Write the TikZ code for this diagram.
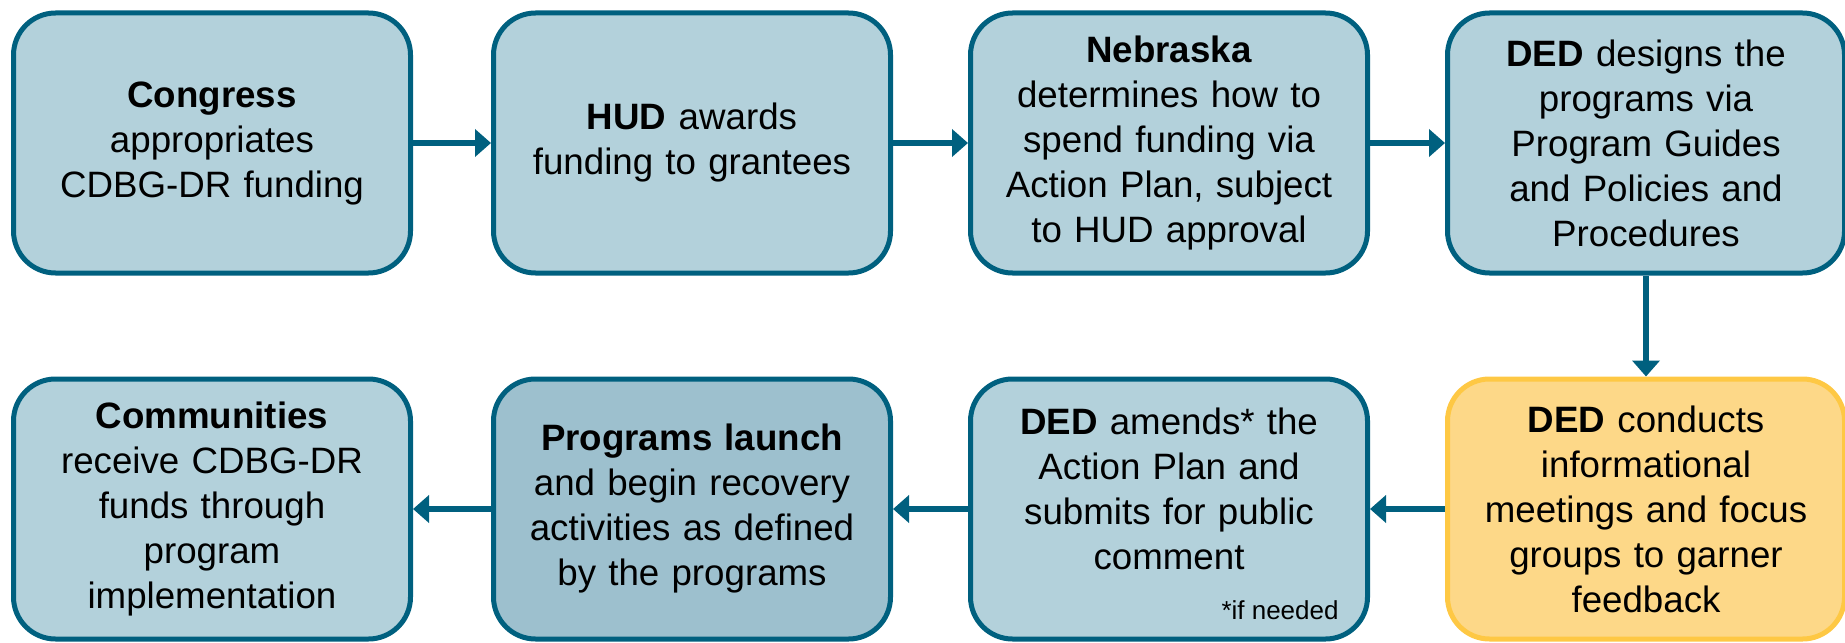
\documentclass[tikz,border=0pt]{standalone}
\usepackage{fontspec}
\setmainfont{Liberation Sans}
\usetikzlibrary{arrows.meta,calc}
\definecolor{bord}{HTML}{00607F}
\definecolor{fillb}{HTML}{B3D1DB}
\definecolor{filld}{HTML}{9DC0CE}
\definecolor{fillY}{HTML}{FDD888}
\definecolor{bordY}{HTML}{FEC844}
\begin{document}
\begin{tikzpicture}[x=0.5pt,y=-0.5pt,
  box/.style={draw=bord, fill=fillb, line width=2.5pt, rounded corners=21pt,
    minimum width=198.5pt, minimum height=130pt, align=center, text width=190pt,
    inner sep=0pt, font=\fontsize{18.35pt}{22.5pt}\selectfont},
  boxtext/.style={align=center, text width=190pt, inner sep=0pt,
    font=\fontsize{18.35pt}{22.5pt}\selectfont},
  conn/.style={draw=bord, line width=3pt, -{Triangle[length=8pt,width=13.5pt]}},
]
\useasboundingbox (0,0) rectangle (1845,642);
% top row
\node[box] (b1) at (212,143) {\textbf{Congress}\\appropriates\\CDBG-DR funding};
\node[box] (b2) at (692,143) {\textbf{HUD} awards\\funding to grantees};
\node[box] (b3) at (1169,143) {\textbf{Nebraska}\\determines how to\\spend funding via\\Action Plan, subject\\to HUD approval};
\node[box] (b4) at (1646,143) {\textbf{DED} designs the\\programs via\\Program Guides\\and Policies and\\Procedures};
% bottom row
\node[box, draw=bordY, fill=fillY] (b8) at (1646,509) {\textbf{DED} conducts\\informational\\meetings and focus\\groups to garner\\feedback};
\node[box] (b7) at (1169,509) {};
\node[boxtext] (b7t) at ($(b7.center)+(0,-20)$) {\textbf{DED} amends* the\\Action Plan and\\submits for public\\comment};
\node[anchor=base east, inner sep=0pt, font=\fontsize{13pt}{15pt}\selectfont] (b7n) at ($(b7.south east)+(-31,-22)$) {*if needed};
\node[box, fill=filld] (b6) at (692,509) {\textbf{Programs launch}\\and begin recovery\\activities as defined\\by the programs};
\node[box] (b5) at (212,509) {\textbf{Communities}\\receive CDBG-DR\\funds through\\program\\implementation};
% connectors
\draw[conn] (b1) -- (b2);
\draw[conn] (b2) -- (b3);
\draw[conn] (b3) -- (b4);
\draw[conn] (b4) -- (b8);
\draw[conn] (b8) -- (b7);
\draw[conn] (b7) -- (b6);
\draw[conn] (b6) -- (b5);
\end{tikzpicture}
\end{document}
